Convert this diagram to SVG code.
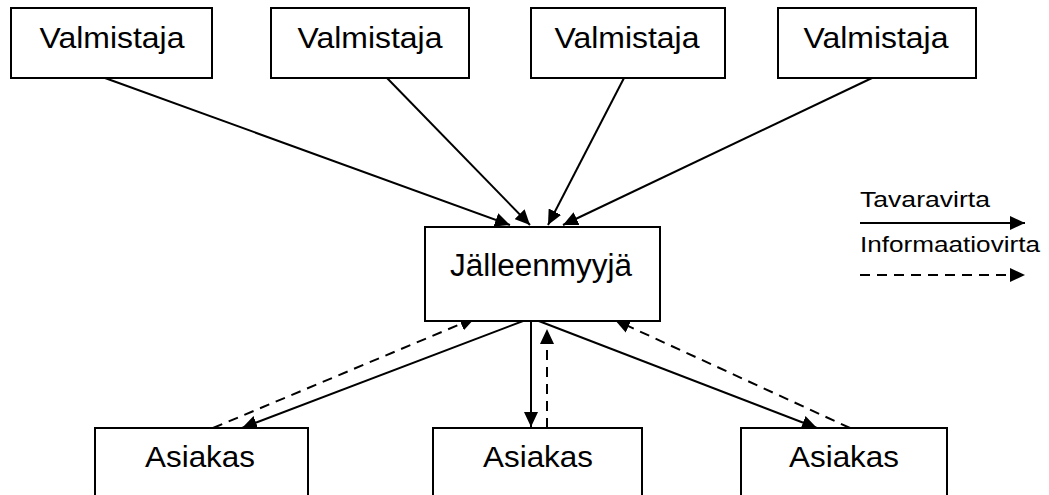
<svg xmlns="http://www.w3.org/2000/svg" width="1049" height="495" viewBox="0 0 1049 495">
<style>
.box{fill:#fff;stroke:#000;stroke-width:2}
.t{font-family:"Liberation Sans",Arial,sans-serif;fill:#000}
.s{stroke:#000;stroke-width:2;fill:none}
.d{stroke:#000;stroke-width:2;fill:none;stroke-dasharray:10 7}
</style>
<defs>
<marker id="ah" markerUnits="userSpaceOnUse" markerWidth="16" markerHeight="14" refX="15" refY="7" orient="auto">
<path d="M0,0 L15,7 L0,14 z" fill="#000"/>
</marker>
</defs>
<rect width="1049" height="495" fill="#fff"/>
<g id="connectors">
<line class="s" x1="105" y1="78" x2="510" y2="225" marker-end="url(#ah)"/>
<line class="s" x1="387" y1="78" x2="530" y2="225" marker-end="url(#ah)"/>
<line class="s" x1="624" y1="78" x2="548" y2="225" marker-end="url(#ah)"/>
<line class="s" x1="872" y1="78" x2="563" y2="225" marker-end="url(#ah)"/>
<line class="s" x1="531" y1="318" x2="242" y2="428" marker-end="url(#ah)"/>
<line class="s" x1="531" y1="318" x2="531" y2="427" marker-end="url(#ah)"/>
<line class="s" x1="531" y1="318" x2="817" y2="428" marker-end="url(#ah)"/>
<line class="d" x1="213" y1="428" x2="475" y2="318" marker-end="url(#ah)"/>
<line class="d" x1="547" y1="428" x2="547" y2="329" marker-end="url(#ah)"/>
<line class="d" x1="850" y1="428" x2="615" y2="320" marker-end="url(#ah)"/>
</g>
<g id="valmistaja1"><rect class="box" x="11" y="8" width="201" height="70"/><text class="t" x="112" y="48" font-size="30" text-anchor="middle" textLength="145" lengthAdjust="spacingAndGlyphs">Valmistaja</text></g>
<g id="valmistaja2"><rect class="box" x="271" y="8" width="198" height="70"/><text class="t" x="370" y="48" font-size="30" text-anchor="middle" textLength="145" lengthAdjust="spacingAndGlyphs">Valmistaja</text></g>
<g id="valmistaja3"><rect class="box" x="531" y="8" width="194" height="70"/><text class="t" x="627" y="48" font-size="30" text-anchor="middle" textLength="145" lengthAdjust="spacingAndGlyphs">Valmistaja</text></g>
<g id="valmistaja4"><rect class="box" x="778" y="8" width="198" height="70"/><text class="t" x="876" y="48" font-size="30" text-anchor="middle" textLength="145" lengthAdjust="spacingAndGlyphs">Valmistaja</text></g>
<g id="jalleenmyyja"><rect class="box" x="425" y="227" width="235" height="94"/><text class="t" x="541" y="276" font-size="31" text-anchor="middle" textLength="182" lengthAdjust="spacingAndGlyphs">Jälleenmyyjä</text></g>
<g id="asiakas1"><rect class="box" x="95" y="428" width="213" height="80"/><text class="t" x="200" y="467" font-size="30" text-anchor="middle" textLength="110" lengthAdjust="spacingAndGlyphs">Asiakas</text></g>
<g id="asiakas2"><rect class="box" x="433" y="428" width="209" height="80"/><text class="t" x="538" y="467" font-size="30" text-anchor="middle" textLength="110" lengthAdjust="spacingAndGlyphs">Asiakas</text></g>
<g id="asiakas3"><rect class="box" x="741" y="428" width="206" height="80"/><text class="t" x="844" y="467" font-size="30" text-anchor="middle" textLength="110" lengthAdjust="spacingAndGlyphs">Asiakas</text></g>
<g id="legend">
<text class="t" x="860" y="207" font-size="22" textLength="130" lengthAdjust="spacingAndGlyphs">Tavaravirta</text>
<line class="s" x1="860" y1="223" x2="1025" y2="223" marker-end="url(#ah)"/>
<text class="t" x="860" y="252" font-size="22" textLength="180" lengthAdjust="spacingAndGlyphs">Informaatiovirta</text>
<line class="d" x1="860" y1="275" x2="1025" y2="275" marker-end="url(#ah)"/>
</g>
</svg>
